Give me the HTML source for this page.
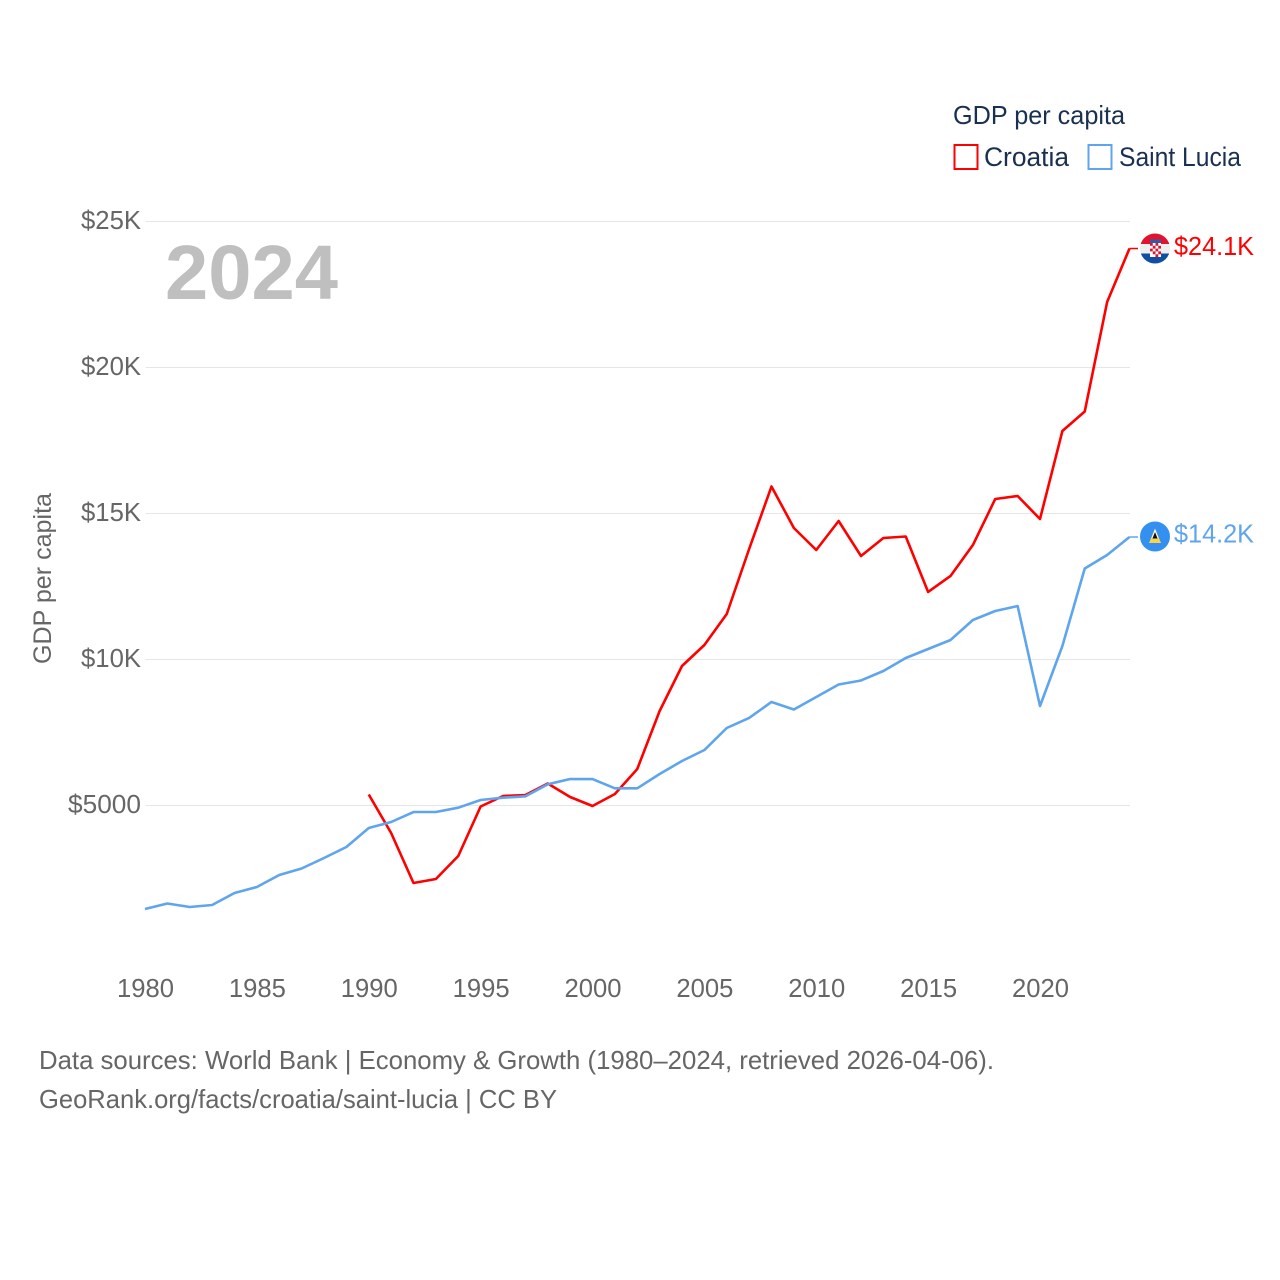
<!DOCTYPE html>
<html lang="en">
<head>
<meta charset="utf-8">
<title>GDP per capita: Croatia and Saint Lucia</title>
<style>
html,body{margin:0;padding:0;background:#fff;}
svg{display:block;font-family:"Liberation Sans",sans-serif;}
</style>
</head>
<body>
<svg id="chart" xmlns="http://www.w3.org/2000/svg" width="1280" height="1280" viewBox="0 0 1280 1280">
  <defs>
    <clipPath id="flag-clip-hr"><circle cx="1155" cy="248.5" r="15"/></clipPath>
    <clipPath id="flag-clip-lc"><circle cx="1155" cy="536.5" r="15"/></clipPath>
  </defs>
  <rect width="1280" height="1280" fill="#fff"/>

  <g id="grid"></g>
  <g id="y-ticks"></g>
  <g id="x-ticks"></g>

  <text x="165" y="299" font-size="77" font-weight="700" fill="#bfbfbf" textLength="173" lengthAdjust="spacingAndGlyphs">2024</text>
  <text transform="translate(51,664) rotate(-90)" font-size="25" fill="#666" textLength="171" lengthAdjust="spacingAndGlyphs">GDP per capita</text>

  <g id="series"></g>

  <g>
    <text x="953" y="124" font-size="26" fill="#1a3050" textLength="172" lengthAdjust="spacingAndGlyphs">GDP per capita</text>
    <g>
      <rect x="954.5" y="145" width="23" height="24" fill="#fff" stroke="#ff0000" stroke-width="2"/>
      <text x="984" y="166" font-size="27" fill="#1a3050" textLength="85" lengthAdjust="spacingAndGlyphs">Croatia</text>
    </g>
    <g>
      <rect x="1088.5" y="145" width="23" height="24" fill="#fff" stroke="#5fa5ee" stroke-width="2"/>
      <text x="1119" y="166" font-size="27" fill="#1a3050" textLength="122" lengthAdjust="spacingAndGlyphs">Saint Lucia</text>
    </g>
  </g>

  <g clip-path="url(#flag-clip-hr)">
    <rect x="1140" y="233" width="30" height="11" fill="#e2112d"/>
    <rect x="1140" y="244" width="30" height="9.5" fill="#eeeeee"/>
    <rect x="1140" y="253.5" width="30" height="11" fill="#0f4ea3"/>
    <rect x="1150" y="239.5" width="11" height="3.5" fill="#2a5db0"/>
    <rect x="1150" y="243" width="11" height="14" fill="#fff"/>
    <path d="M1150 243h2.75v2.8h-2.75zM1155.5 243h2.75v2.8h-2.75zM1152.75 245.8h2.75v2.8h-2.75zM1158.25 245.8h2.75v2.8h-2.75zM1150 248.6h2.75v2.8h-2.75zM1155.5 248.6h2.75v2.8h-2.75zM1152.75 251.4h2.75v2.8h-2.75zM1158.25 251.4h2.75v2.8h-2.75zM1155.5 254.2h2.75v2.8h-2.75z" fill="#d8172f"/>
  </g>
  <g>
    <circle cx="1155" cy="536.5" r="15" fill="#3390f0"/>
    <path d="M1155 528.5L1161 543H1149Z" fill="#fbd34a"/>
    <path d="M1155 529L1158.6 538.5H1151.4Z" fill="#fff"/>
    <path d="M1155 532L1157.6 538.5H1152.4Z" fill="#111"/>
  </g>

  <g>
    <text x="39" y="1069" font-size="26" fill="#666" textLength="955" lengthAdjust="spacingAndGlyphs">Data sources: World Bank | Economy &amp; Growth (1980–2024, retrieved 2026-04-06).</text>
    <text x="39" y="1108" font-size="26" fill="#666" textLength="518" lengthAdjust="spacingAndGlyphs">GeoRank.org/facts/croatia/saint-lucia | CC BY</text>
  </g>
</svg>
<script>
const years = [1980,1981,1982,1983,1984,1985,1986,1987,1988,1989,1990,1991,1992,1993,1994,1995,1996,1997,1998,1999,2000,2001,2002,2003,2004,2005,2006,2007,2008,2009,2010,2011,2012,2013,2014,2015,2016,2017,2018,2019,2020,2021,2022,2023,2024];
const croatia = [null,null,null,null,null,null,null,null,null,null,5377,4058,2346,2483,3270,4966,5325,5360,5753,5291,4983,5394,6250,8236,9777,10497,11558,13784,15925,14503,13750,14743,13545,14161,14212,12312,12860,13921,15497,15600,14812,17825,18493,22243,24075];
const saintLucia = [1455,1644,1524,1592,2003,2209,2620,2842,3202,3579,4229,4435,4777,4777,4925,5188,5267,5315,5726,5907,5907,5589,5589,6079,6524,6900,7654,7997,8545,8288,8716,9144,9281,9606,10051,10360,10668,11353,11661,11832,8408,10462,13116,13579,14195];
const yTickValues = [25000,20000,15000,10000,5000];
const yTickLabels = ["$25K","$20K","$15K","$10K","$5000"];
const xTickYears = [1980,1985,1990,1995,2000,2005,2010,2015,2020];
const endLabels = ["$24.1K","$14.2K"];

const NS = "http://www.w3.org/2000/svg";
function xScale(year){ return 145 + (year - 1980) * (984.5 / 44); }
function yScale(value){ return 805.5 - (value - 5000) * (146 / 5000); }

function make(tag, attrs, parentId){
  const el = document.createElementNS(NS, tag);
  for (const k in attrs) el.setAttribute(k, attrs[k]);
  document.getElementById(parentId).appendChild(el);
  return el;
}

yTickValues.forEach(function(v, i){
  const line = make("line", {x1:145.5, x2:1130, y1:yScale(v), y2:yScale(v), stroke:"#e6e6e6", "stroke-width":1}, "grid");
  
  
  const t = make("text", {x:141, y:yScale(v)+7.5, "text-anchor":"end", "font-size":26, fill:"#666", textLength:(yTickLabels[i].length===5?73:60), lengthAdjust:"spacingAndGlyphs"}, "y-ticks");
  t.textContent = yTickLabels[i];
  
  
});

xTickYears.forEach(function(y){
  const t = make("text", {x:xScale(y)+0.5, y:997, "text-anchor":"middle", "font-size":26, fill:"#666", textLength:57, lengthAdjust:"spacingAndGlyphs"}, "x-ticks");
  t.textContent = String(y);
  
  
});

function linePath(values){
  let d = "";
  values.forEach(function(v, i){
    if (v === null) return;
    d += (d ? "L" : "M") + xScale(years[i]).toFixed(2) + " " + yScale(v).toFixed(2);
  });
  return d;
}

function lastValue(values){ return values[values.length - 1]; }

const croatiaLine = make("path", {d:linePath(croatia), fill:"none", stroke:"#ff0000", "stroke-width":2.6, "stroke-linejoin":"round"}, "series");



const luciaLine = make("path", {d:linePath(saintLucia), fill:"none", stroke:"#5fa5ee", "stroke-width":2.6, "stroke-linejoin":"round"}, "series");



const croatiaStub = make("line", {x1:1129.5, x2:1138, y1:yScale(lastValue(croatia)), y2:yScale(lastValue(croatia)), stroke:"#ff0000", "stroke-width":1.5}, "series");



const luciaStub = make("line", {x1:1129.5, x2:1138, y1:yScale(lastValue(saintLucia)), y2:yScale(lastValue(saintLucia)), stroke:"#5fa5ee", "stroke-width":1.5}, "series");



const croatiaValue = make("text", {x:1174, y:yScale(lastValue(croatia))+6.5, "font-size":26, fill:"#ff0000", textLength:80, lengthAdjust:"spacingAndGlyphs"}, "series");
croatiaValue.textContent = endLabels[0];



const luciaValue = make("text", {x:1174, y:yScale(lastValue(saintLucia))+5.5, "font-size":26, fill:"#5fa5ee", textLength:80, lengthAdjust:"spacingAndGlyphs"}, "series");
luciaValue.textContent = endLabels[1];


</script>
</body>
</html>
